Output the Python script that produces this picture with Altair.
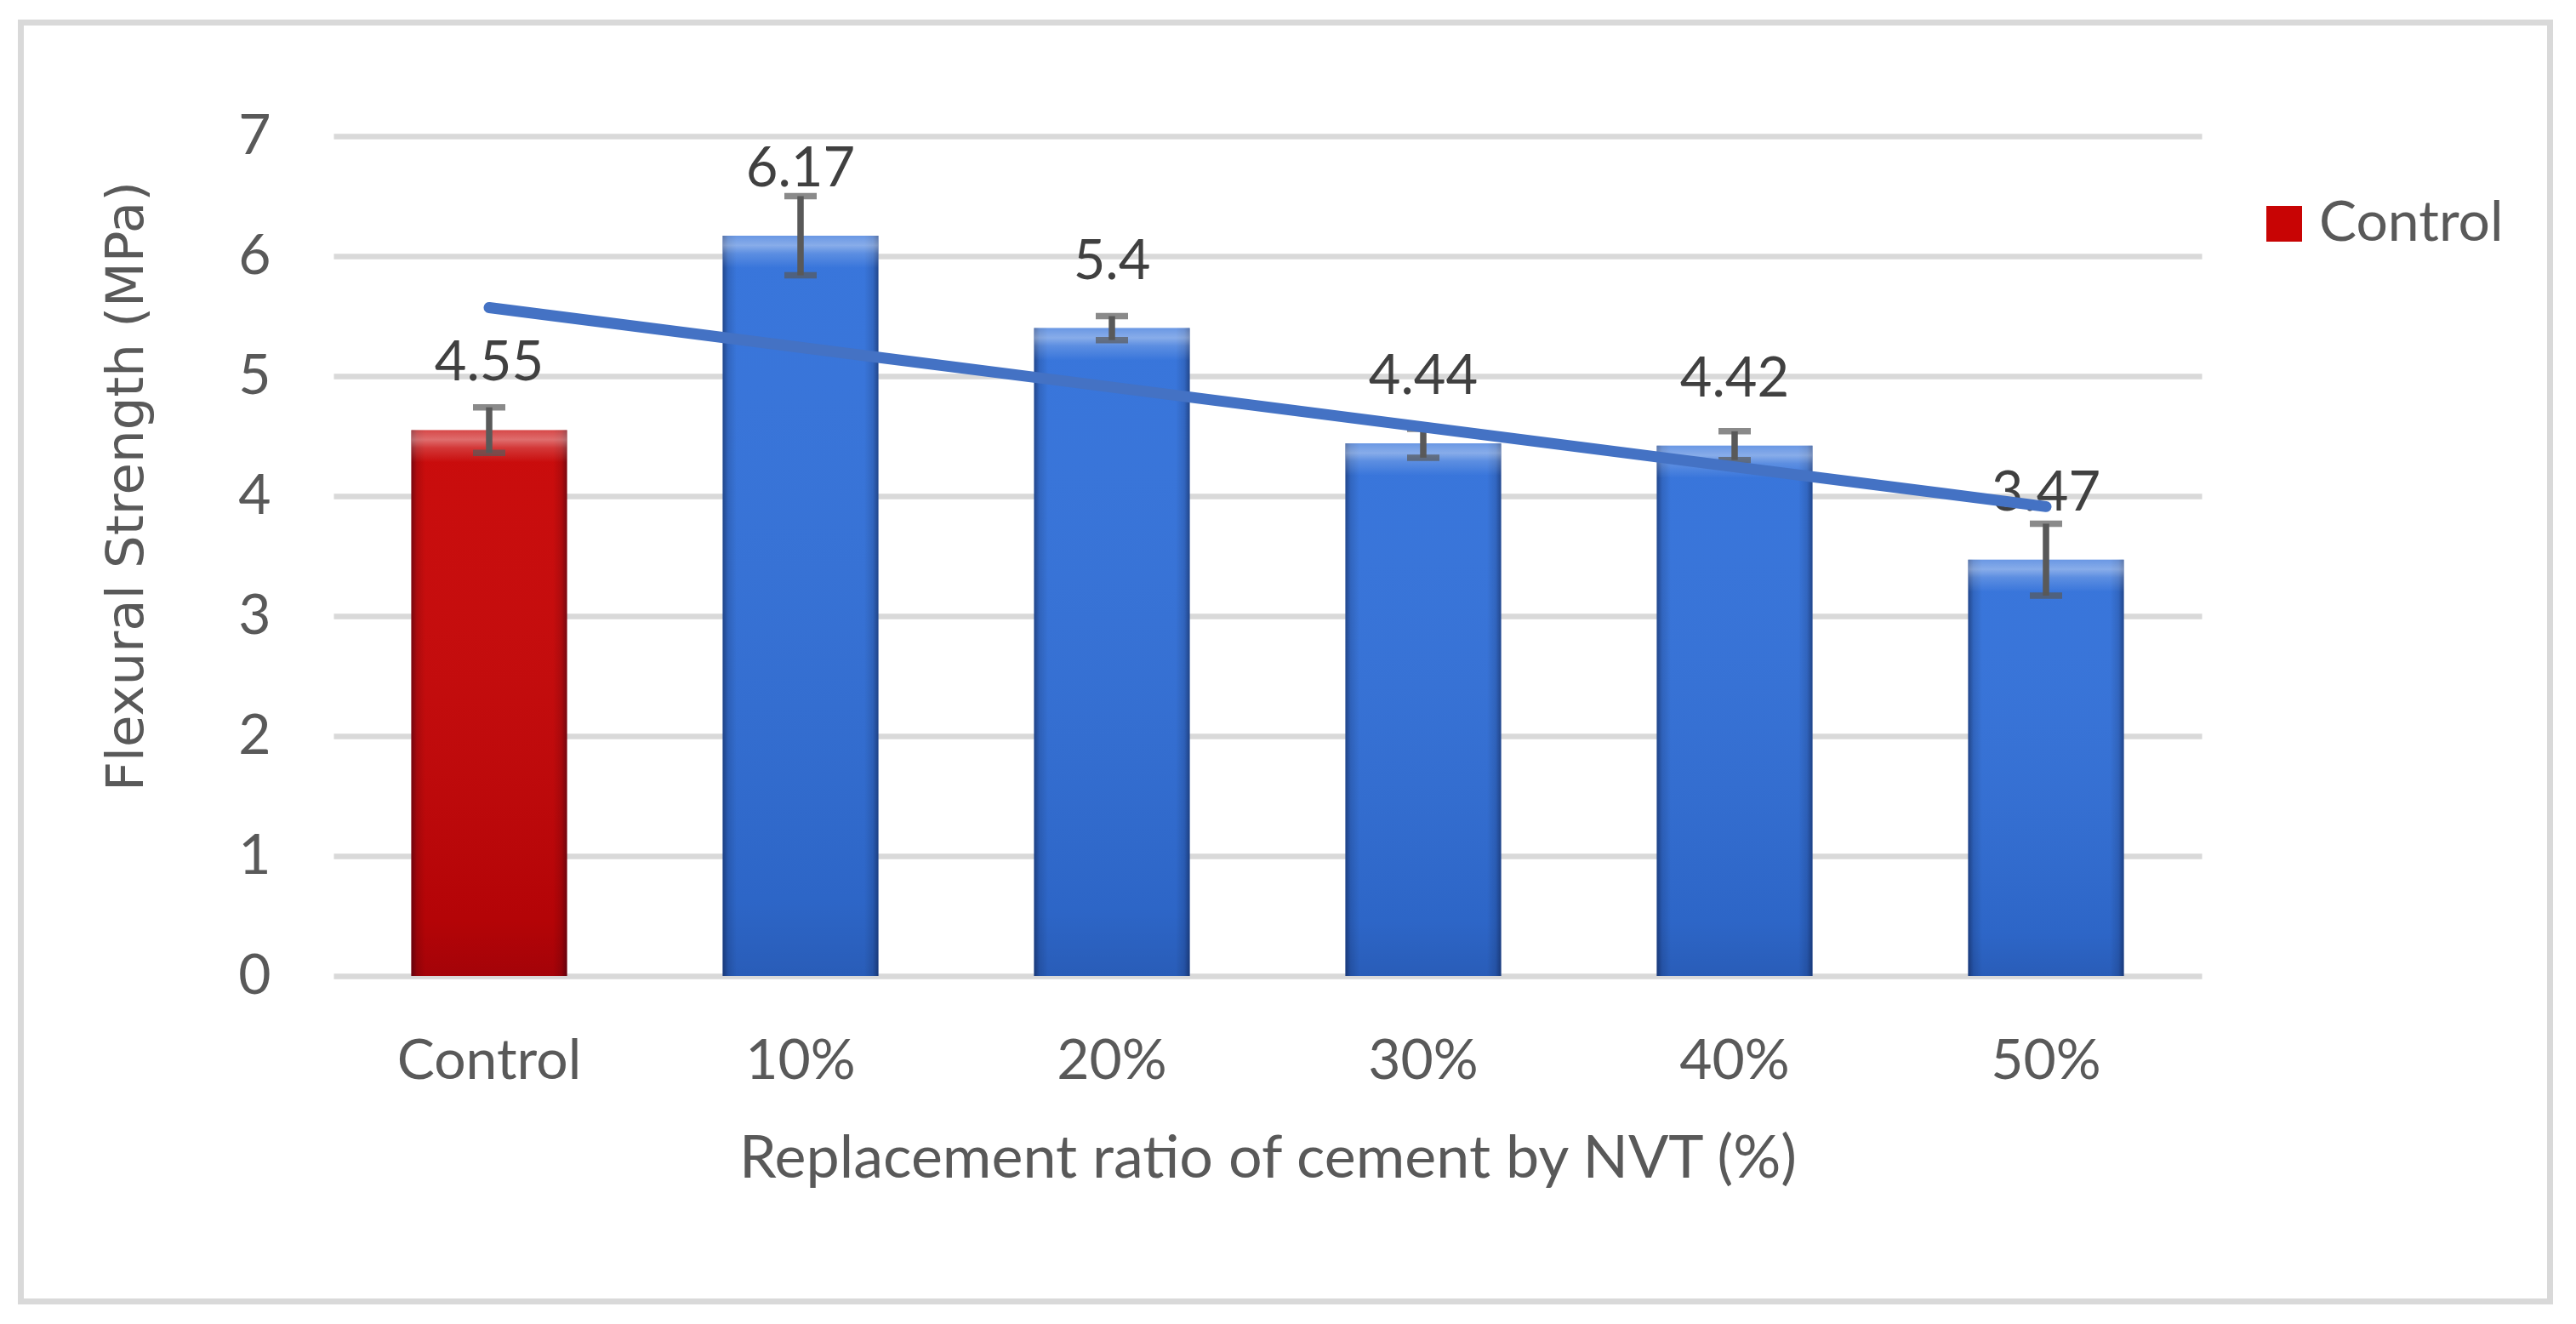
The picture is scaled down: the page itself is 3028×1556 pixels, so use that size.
import json
import altair as alt
import pandas as pd

# ---- data ----
categories = ["Control", "10%", "20%", "30%", "40%", "50%"]
values = [4.55, 6.17, 5.40, 4.44, 4.42, 3.47]
errors = [0.19, 0.33, 0.10, 0.12, 0.12, 0.30]
series = ["Control", "NVT", "NVT", "NVT", "NVT", "NVT"]
y_ticks = [0, 1, 2, 3, 4, 5, 6, 7]

df = pd.DataFrame({
    "cat": categories,
    "value": values,
    "err": errors,
    "series": series,
    "idx": list(range(len(categories))),
})
df["lo"] = df["value"] - df["err"]
df["hi"] = df["value"] + df["err"]

FONT = "Lato"
AX_COL = "#595959"
W, H = 2196, 987
PAD = {"left": 384, "top": 152, "right": 420, "bottom": 390}

x_scale = alt.Scale(paddingInner=0.5, paddingOuter=0.25)
y_scale = alt.Scale(domain=[0, 7], nice=False)


def X(axis=None):
    if axis is None:
        return alt.X("cat:N", sort=categories, scale=x_scale)
    return alt.X("cat:N", sort=categories, scale=x_scale, axis=axis)


x_axis = alt.Axis(
    title="Replacement ratio of cement by NVT (%)",
    labelAngle=0, domain=False, ticks=False, tickSize=0, grid=False,
    labelFont=FONT, labelFontSize=66, labelColor=AX_COL, labelLimit=600,
    labelBaseline="alphabetic", labelPadding=120,
    titleFont=FONT, titleFontSize=70, titleColor=AX_COL, titleFontWeight="normal",
    titleBaseline="alphabetic", titleY=236, titleX=W / 2, titleAlign="center",
    titleLimit=3000,
)
y_axis = alt.Axis(
    title="Flexural Strength (MPa)", values=y_ticks, format="d",
    domain=False, ticks=False, tickSize=0,
    grid=True, gridColor="#D9D9D9", gridWidth=6.7,
    labelFont=FONT, labelFontSize=66, labelColor=AX_COL, labelPadding=74,
    titleFont="DejaVu Sans", titleFontSize=61, titleColor=AX_COL, titleFontWeight="normal",
    titleAngle=270, titleX=-243, titleY=411, titleBaseline="middle", titleAlign="center",
    titleLimit=3000,
)

# decorative outer frame (chart border)
frame = alt.Chart(pd.DataFrame({"k": [0]})).mark_rect(
    fillOpacity=0, stroke="#D9D9D9", strokeWidth=7, clip=False
).encode(
    x=alt.value(-367.5), x2=alt.value(2605.5),
    y=alt.value(-133.5), y2=alt.value(1369.5),
)

base = alt.Chart(df)

bars = base.mark_bar().encode(
    x=X(x_axis),
    y=alt.Y("value:Q", scale=y_scale, axis=y_axis),
    color=alt.Color(
        "series:N",
        scale=alt.Scale(domain=["Control", "NVT"], range=["#C80404", "#3271DA"]),
        legend=alt.Legend(
            values=["Control"], title=None, orient="none",
            legendX=2260, legendY=70, labelLimit=0,
            symbolType="square", symbolSize=1764, symbolStrokeWidth=0,
            labelFont=FONT, labelFontSize=66, labelColor=AX_COL, labelOffset=8,
        ),
    ),
)

# shading overlays to mimic the bevelled Excel bars
vshade = base.mark_bar(color={
    "gradient": "linear", "x1": 0, "y1": 0, "x2": 0, "y2": 1,
    "stops": [
        {"offset": 0, "color": "rgba(255,255,255,0.03)"},
        {"offset": 0.9, "color": "rgba(0,0,30,0.10)"},
        {"offset": 1, "color": "rgba(0,0,30,0.18)"},
    ],
}).encode(x=X(), y=alt.Y("value:Q", scale=y_scale))

hshade = base.mark_bar(color={
    "gradient": "linear", "x1": 0, "y1": 0, "x2": 1, "y2": 0,
    "stops": [
        {"offset": 0, "color": "rgba(0,0,20,0.40)"},
        {"offset": 0.035, "color": "rgba(0,0,20,0.13)"},
        {"offset": 0.09, "color": "rgba(0,0,0,0)"},
        {"offset": 0.91, "color": "rgba(0,0,0,0)"},
        {"offset": 0.965, "color": "rgba(0,0,20,0.13)"},
        {"offset": 1, "color": "rgba(0,0,20,0.40)"},
    ],
}).encode(x=X(), y=alt.Y("value:Q", scale=y_scale))

bevel = base.mark_bar(y2Offset=38, color={
    "gradient": "linear", "x1": 0, "y1": 0, "x2": 0, "y2": 1,
    "stops": [
        {"offset": 0, "color": "rgba(255,255,255,0.25)"},
        {"offset": 0.3, "color": "rgba(255,255,255,0.40)"},
        {"offset": 0.55, "color": "rgba(255,255,255,0.18)"},
        {"offset": 1, "color": "rgba(255,255,255,0)"},
    ],
}).encode(x=X(), y=alt.Y("value:Q", scale=y_scale), y2="value:Q")

ERR_COL = "#595959"
err_rule = base.mark_rule(color=ERR_COL, strokeWidth=7.5).encode(
    x=X(), y=alt.Y("lo:Q", scale=y_scale), y2="hi:Q"
)
err_lo = base.mark_tick(color=ERR_COL, thickness=7.5, size=38).encode(
    x=X(), y=alt.Y("lo:Q", scale=y_scale)
)
err_hi = base.mark_tick(color=ERR_COL, thickness=7.5, size=38).encode(
    x=X(), y=alt.Y("hi:Q", scale=y_scale)
)

labels = base.mark_text(
    dy=-58, baseline="alphabetic", align="center",
    font=FONT, fontSize=65, color="#404040",
).encode(
    x=X(), y=alt.Y("value:Q", scale=y_scale),
    text=alt.Text("value:Q", format=".3~g"),
)

cat_expr = json.dumps(categories) + "[datum.idx]"
trend = base.transform_regression("idx", "value").transform_calculate(
    cat=cat_expr
).mark_line(color="#4472C4", strokeWidth=13, strokeCap="round").encode(
    x=X(), y=alt.Y("value:Q", scale=y_scale)
)

chart = alt.layer(
    frame, bars, vshade, hshade, bevel, err_rule, err_lo, err_hi, labels, trend
).properties(
    width=W, height=H,
    autosize=alt.AutoSizeParams(type="none"),
    padding=PAD,
    background="white",
).configure_view(stroke=None)

chart.save("out.html", embed_options={"renderer": "svg", "actions": False})
